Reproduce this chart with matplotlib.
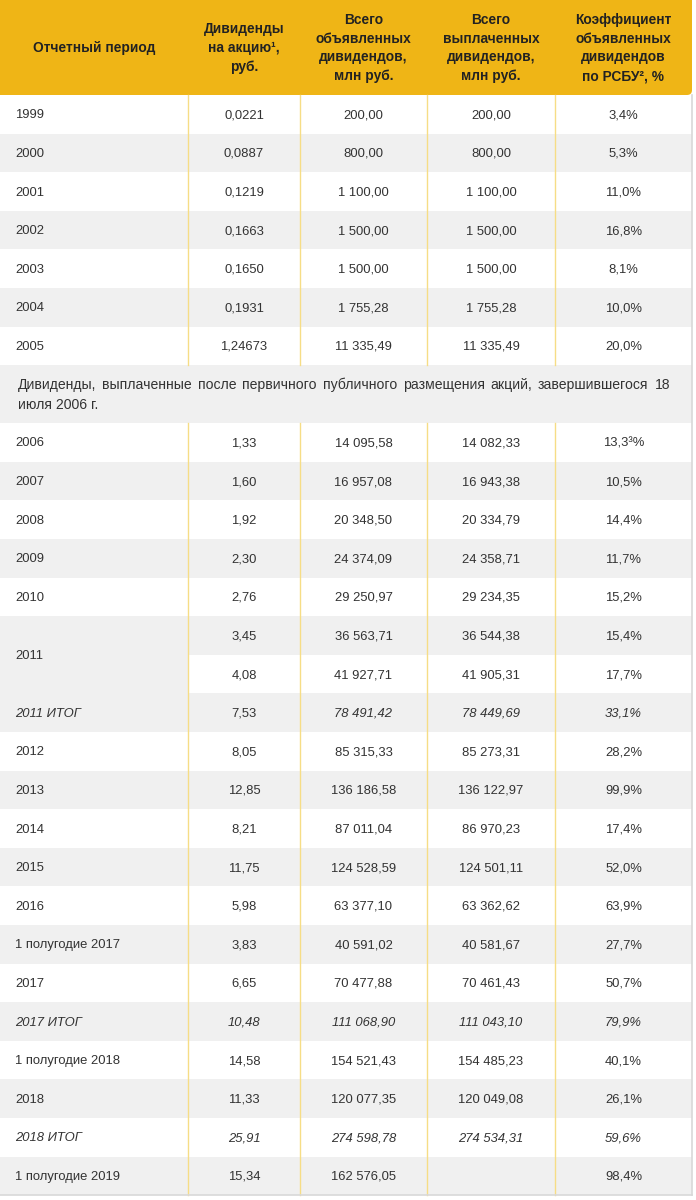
import matplotlib
matplotlib.use("Agg")
import matplotlib.pyplot as plt
from matplotlib.patches import Rectangle, FancyBboxPatch

plt.rcParams["font.family"] = ["Liberation Sans", "DejaVu Sans"]

W, H = 696, 1200

HEADERS = [
    "Отчетный период",
    "Дивиденды\nна акцию¹,\nруб.",
    "Всего\nобъявленных\nдивидендов,\nмлн руб.",
    "Всего\nвыплаченных\nдивидендов,\nмлн руб.",
    "Коэффициент\nобъявленных\nдивидендов\nпо РСБУ², %",
]

# before IPO
PERIODS_A = ["1999", "2000", "2001", "2002", "2003", "2004", "2005"]
DPS_A = ["0,0221", "0,0887", "0,1219", "0,1663", "0,1650", "0,1931", "1,24673"]
DECLARED_A = ["200,00", "800,00", "1 100,00", "1 500,00", "1 500,00", "1 755,28", "11 335,49"]
PAID_A = ["200,00", "800,00", "1 100,00", "1 500,00", "1 500,00", "1 755,28", "11 335,49"]
RATIO_A = ["3,4%", "5,3%", "11,0%", "16,8%", "8,1%", "10,0%", "20,0%"]

NOTE = ("Дивиденды, выплаченные после первичного публичного размещения акций, "
        "завершившегося 18 июля 2006 г.")

# after IPO ("" period = merged with the row above)
PERIODS_B = ["2006", "2007", "2008", "2009", "2010", "2011", "", "2011 ИТОГ",
             "2012", "2013", "2014", "2015", "2016", "1 полугодие 2017", "2017",
             "2017 ИТОГ", "1 полугодие 2018", "2018", "2018 ИТОГ", "1 полугодие 2019"]
DPS_B = ["1,33", "1,60", "1,92", "2,30", "2,76", "3,45", "4,08", "7,53",
         "8,05", "12,85", "8,21", "11,75", "5,98", "3,83", "6,65",
         "10,48", "14,58", "11,33", "25,91", "15,34"]
DECLARED_B = ["14 095,58", "16 957,08", "20 348,50", "24 374,09", "29 250,97",
              "36 563,71", "41 927,71", "78 491,42", "85 315,33", "136 186,58",
              "87 011,04", "124 528,59", "63 377,10", "40 591,02", "70 477,88",
              "111 068,90", "154 521,43", "120 077,35", "274 598,78", "162 576,05"]
PAID_B = ["14 082,33", "16 943,38", "20 334,79", "24 358,71", "29 234,35",
          "36 544,38", "41 905,31", "78 449,69", "85 273,31", "136 122,97",
          "86 970,23", "124 501,11", "63 362,62", "40 581,67", "70 461,43",
          "111 043,10", "154 485,23", "120 049,08", "274 534,31", ""]
RATIO_B = ["13,3³%", "10,5%", "14,4%", "11,7%", "15,2%", "15,4%", "17,7%", "33,1%",
           "28,2%", "99,9%", "17,4%", "52,0%", "63,9%", "27,7%", "50,7%",
           "79,9%", "40,1%", "26,1%", "59,6%", "98,4%"]

YELLOW = "#EFB516"
STRIPE = "#F0F0F0"
DIVIDER = "#F6DD86"
TEXT = "#333333"
FS = 9.4
FS_HEAD = 9.9
FS_NOTE = 10.1

COL_X = [0, 188, 300, 427, 555, 692]
HEADER_H = 95
ROW_H = 38.6
NOTE_H = 58

fig = plt.figure(figsize=(W / 100, H / 100), dpi=100)
ax = fig.add_axes([0, 0, 1, 1])
ax.set_xlim(0, W)
ax.set_ylim(H, 0)
ax.axis("off")

# header
ax.add_patch(FancyBboxPatch((0, -10), COL_X[-1], HEADER_H + 10,
                            boxstyle="round,pad=0,rounding_size=5",
                            fc=YELLOW, ec="none"))
ax.add_patch(Rectangle((0, 10), 20, HEADER_H - 10, fc=YELLOW, ec="none"))
ax.add_patch(Rectangle((0, -10), 20, 30, fc=YELLOW, ec="none"))
for i, h in enumerate(HEADERS):
    cx = (COL_X[i] + COL_X[i + 1]) / 2
    ax.text(cx, 48, h, ha="center", va="center", fontsize=FS_HEAD,
            fontweight="bold", color="#222222", linespacing=1.43)


def draw_row(y, h, stripe, period, vals, italic, merged=False, span=1):
    if stripe:
        x0 = COL_X[1] if merged else 0
        ax.add_patch(Rectangle((x0, y), COL_X[-1] - x0, h, fc=STRIPE, ec="none"))
    if period and not merged:
        ax.text(15, y + h * span / 2 + 4, period, ha="left", va="baseline", fontsize=FS,
                color=TEXT, style="italic" if italic else "normal")
    for j, v in enumerate(vals):
        cx = (COL_X[j + 1] + COL_X[j + 2]) / 2
        it = italic and not (period == "2011 ИТОГ" and j == 0)
        ax.text(cx, y + h / 2 + 4, v, ha="center", va="baseline", fontsize=FS,
                color=TEXT, style="italic" if it else "normal")


y = HEADER_H
stripe = False
for i, p in enumerate(PERIODS_A):
    draw_row(y, ROW_H, stripe, p, [DPS_A[i], DECLARED_A[i], PAID_A[i], RATIO_A[i]], False)
    y += ROW_H
    stripe = not stripe
top_a, bottom_a = HEADER_H, y

# note row, first line justified
ax.add_patch(Rectangle((0, y), COL_X[-1], NOTE_H, fc=STRIPE, ec="none"))
words = NOTE.split(" ")
line1, line2 = words[:9], words[9:]
x_left, x_right = 18, 670
renderer = fig.canvas.get_renderer()
widths = []
for w in line1:
    t = ax.text(0, 0, w, fontsize=FS_NOTE)
    widths.append(t.get_window_extent(renderer).width)
    t.remove()
gap = (x_right - x_left - sum(widths)) / (len(line1) - 1)
xx = x_left
for w, wd in zip(line1, widths):
    ax.text(xx, y + 24, w, ha="left", va="baseline", fontsize=FS_NOTE, color=TEXT)
    xx += wd + gap
ax.text(x_left, y + 44, " ".join(line2), ha="left", va="baseline",
        fontsize=FS_NOTE, color=TEXT)
y += NOTE_H
top_b = y

stripe = False
for i, p in enumerate(PERIODS_B):
    italic = "ИТОГ" in p
    span = 2 if (i + 1 < len(PERIODS_B) and PERIODS_B[i + 1] == "") else 1
    if span == 2 and stripe:
        # merged period cell takes the stripe of its first sub-row
        ax.add_patch(Rectangle((0, y), COL_X[1], ROW_H * 2, fc=STRIPE, ec="none"))
    draw_row(y, ROW_H, stripe, p, [DPS_B[i], DECLARED_B[i], PAID_B[i], RATIO_B[i]],
             italic, merged=(p == ""), span=span)
    y += ROW_H
    stripe = not stripe
bottom_b = y

# column dividers
for x in COL_X[1:-1]:
    ax.plot([x, x], [top_a, bottom_a], color=DIVIDER, lw=1)
    ax.plot([x, x], [top_b, bottom_b], color=DIVIDER, lw=1)

# outer border right/bottom
ax.plot([COL_X[-1], COL_X[-1]], [HEADER_H, bottom_b], color="#D8D8D8", lw=1.2)
ax.plot([0, COL_X[-1]], [bottom_b, bottom_b], color="#D8D8D8", lw=1.2)

fig.savefig("out.png", dpi=100, facecolor="white")
